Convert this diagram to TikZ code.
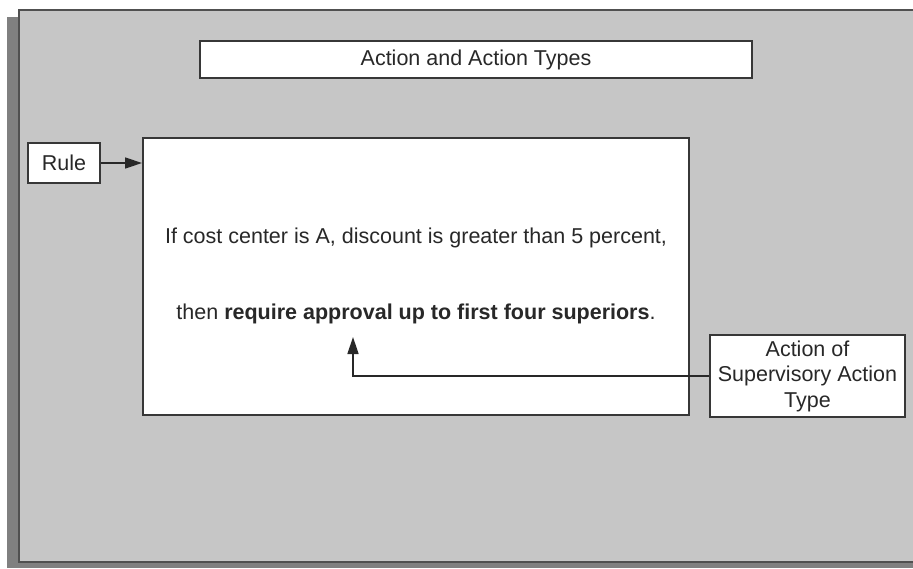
\documentclass[tikz,border=0pt]{standalone}
\usepackage{fontspec}
\setmainfont{Liberation Sans}
\usetikzlibrary{shapes, arrows.meta, calc, positioning}
\definecolor{panelgray}{RGB}{198,198,198}
\definecolor{shadowgray}{RGB}{128,128,128}
\definecolor{framegray}{RGB}{80,80,80}
\definecolor{boxline}{RGB}{55,55,55}
\definecolor{inkgray}{RGB}{40,40,40}

\begin{document}
\begin{tikzpicture}[>={Triangle[length=17pt, width=11pt]}, x=1pt, y=1pt, node distance=19pt]
    \tikzstyle{box} = [draw=boxline, line width=2pt, fill=white, rectangle,
	inner sep=0pt, align=center, text=inkgray, font=\fontsize{21.5}{25.5}\selectfont]
    \tikzstyle{txt} = [inner sep=0pt, text=inkgray, font=\fontsize{21.5}{25.5}\selectfont]

	\useasboundingbox (0,0) rectangle (913,-568);
	% panel with its shadow
	\fill[shadowgray] (7,-17) rectangle (913,-568);
	\fill[panelgray] (18.5,-10) rectangle (913,-561.5);
	\draw[framegray, line width=2pt] (913,-10) -- (18.5,-10) -- (18.5,-561.5) -- (913,-561.5);

	\begin{scope}
		\path[->, line width=1.5pt, inkgray]
			node[box, minimum width=546pt, minimum height=277pt] (main) at (416,-276.5) {}
			node[box, minimum width=552pt, minimum height=37pt] (title) at (476,-59.5) {Action and Action Types}
			node[box, minimum width=72pt, minimum height=40pt, anchor=north east] (rule)
				at ([shift={(-41pt,-5pt)}]main.north west) {Rule}
			node[box, minimum width=195pt, minimum height=82pt, right=19pt of main.south east,
				anchor=south west, yshift=-2pt] (action) {Action of\\Supervisory Action\\Type}
			node[txt] (cond) at ([yshift=39pt]main.center)
				{If cost center is A, discount is greater than 5 percent,}
			node[txt] (then) at ([yshift=-37pt]main.center)
				{then \textbf{require approval up to first four superiors}.}
			coordinate (tip) at (353,-337)

			(rule.east) edge (rule.east -| main.west)
			(action.west) edge[to path={-| (\tikztotarget)}] (tip)
		;
	\end{scope}
\end{tikzpicture}
\end{document}
